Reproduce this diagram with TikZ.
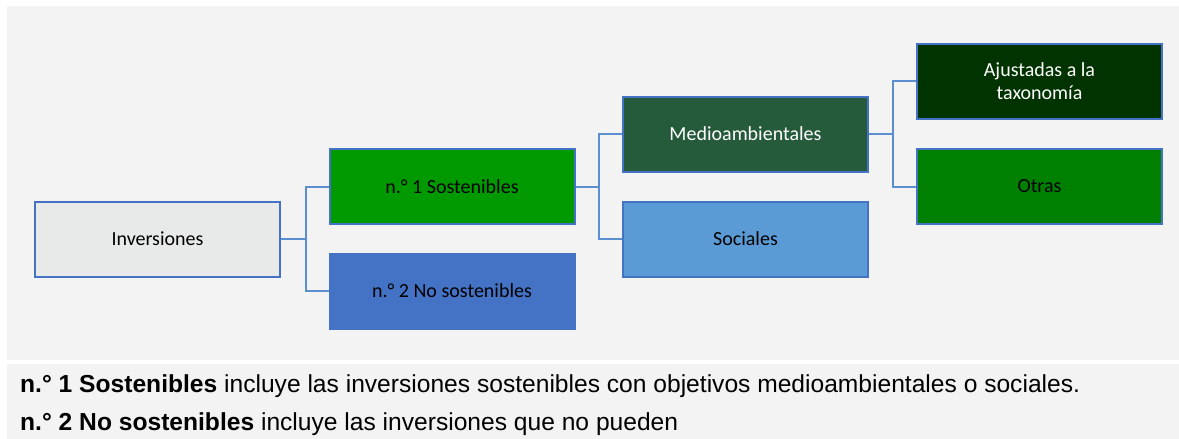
\documentclass[tikz,border=0pt]{standalone}
\usepackage{fontspec}
\setmainfont{Carlito}
\newfontfamily\notefont{Liberation Sans}
\usetikzlibrary{positioning, calc}
\definecolor{PanelGray}{HTML}{F3F3F3}
\definecolor{BoxGray}{HTML}{E8EAE9}
\definecolor{EdgeBlue}{HTML}{4472C4}
\definecolor{LinkBlue}{HTML}{5B8FCF}
\definecolor{SostGreen}{HTML}{009900}
\definecolor{NoSostBlue}{HTML}{4472C4}
\definecolor{MedioGreen}{HTML}{255A3B}
\definecolor{SocBlue}{HTML}{5B9BD5}
\definecolor{TaxoGreen}{HTML}{003300}
\definecolor{OtrasGreen}{HTML}{008000}

\tikzset{
    catbox/.style={draw=EdgeBlue, line width=2pt, minimum width=245pt, minimum height=75pt,
        inner sep=0pt, align=center, font=\fontsize{20}{23}\selectfont},
    link/.style={draw=LinkBlue, line width=2pt},
    note/.style={anchor=base west, inner sep=0pt, font=\notefont\fontsize{24.6}{29}\selectfont}
}

\begin{document}
\begin{tikzpicture}[x=1pt, y=-1pt]
        \useasboundingbox (0,0) rectangle (1179,439);
        % Panels
        \fill [PanelGray] (7,6) rectangle (1179,360);
        \fill [PanelGray] (7,364) rectangle (1179,439);

        % Boxes
        \node [catbox, fill=BoxGray] (inv) at (157.5,239) {Inversiones};
        \node [catbox, fill=SostGreen] (sost) at (452,186.5) {n.° 1 Sostenibles};
        \node [catbox, fill=NoSostBlue, draw=NoSostBlue] (nosost) at (452,291) {n.° 2 No sostenibles};
        \node [catbox, fill=MedioGreen, text=white] (medio) at (745.5,134) {Medioambientales};
        \node [catbox, fill=SocBlue] (soc) at (745.5,239) {Sociales};
        \node [catbox, fill=TaxoGreen, text=white] (taxo) at (1039.5,81) {Ajustadas a la\\taxonomía};
        \node [catbox, fill=OtrasGreen] (otras) at (1039.5,186.5) {Otras};

        % Links
        \draw [link] (inv.east) -- ++(25,0) |- (sost.west);
        \draw [link] (inv.east) -- ++(25,0) |- (nosost.west);
        \draw [link] (sost.east) -- ++(23,0) |- (medio.west);
        \draw [link] (sost.east) -- ++(23,0) |- (soc.west);
        \draw [link] (medio.east) -- ++(24,0) |- (taxo.west);
        \draw [link] (medio.east) -- ++(24,0) |- (otras.west);

        % Notes
        \node [note] (note1) at (20,392)
            {\textbf{n.° 1 Sostenibles} incluye las inversiones sostenibles con objetivos medioambientales o sociales.};
        \node [note] (note2) at (20,430)
            {\textbf{n.° 2 No sostenibles} incluye las inversiones que no pueden};
    \end{tikzpicture}
\end{document}
